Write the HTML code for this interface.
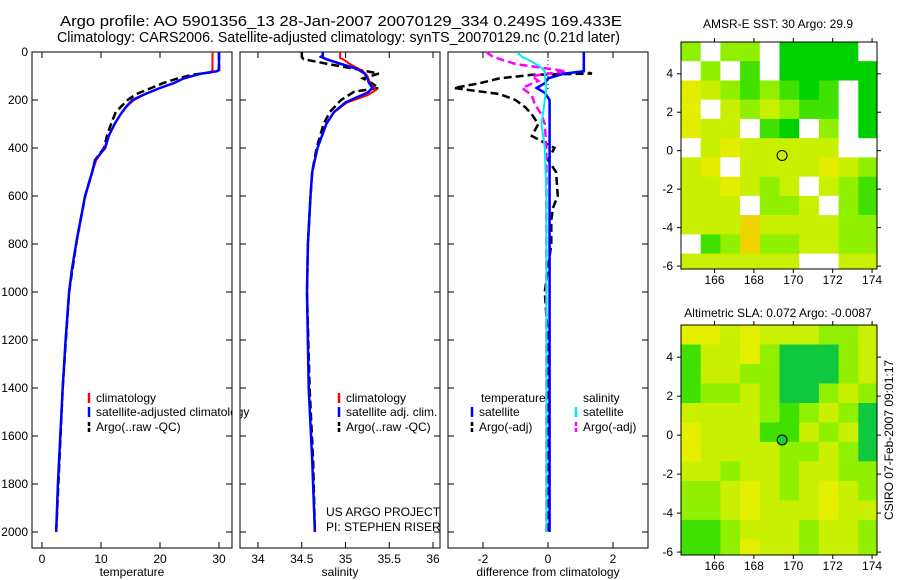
<!DOCTYPE html>
<html><head><meta charset="utf-8"><style>
body{margin:0;background:#fff;}
svg{display:block;font-family:"Liberation Sans",sans-serif;}
</style></head><body>
<svg id="c" width="900" height="580" viewBox="0 0 900 580">
<text x="60" y="26" font-size="15" textLength="562" lengthAdjust="spacingAndGlyphs">Argo profile: AO 5901356_13 28-Jan-2007 20070129_334 0.249S 169.433E</text>
<text x="57" y="42" font-size="15" textLength="563" lengthAdjust="spacingAndGlyphs">Climatology: CARS2006. Satellite-adjusted climatology: synTS_20070129.nc (0.21d later)</text>
<text x="778" y="28" font-size="12" text-anchor="middle">AMSR-E SST: 30 Argo: 29.9</text>
<text x="778" y="317" font-size="12" text-anchor="middle">Altimetric SLA: 0.072 Argo: -0.0087</text>
<text x="0" y="0" font-size="12" text-anchor="middle" transform="translate(893,440) rotate(-90)">CSIRO 07-Feb-2007 09:01:17</text>
<text x="326" y="516" font-size="12">US ARGO PROJECT</text>
<text x="326" y="531" font-size="12">PI: STEPHEN RISER</text>
</svg>
<script>
const NS="http://www.w3.org/2000/svg";
const svg=document.getElementById('c');
// ---- data ----
const depthTicks=[0,200,400,600,800,1000,1200,1400,1600,1800,2000];
const tempTicks=[0,10,20,30];
const salTicks=[34,34.5,35,35.5,36];
const diffTicks=[-2,0,2];
const tClimD=[0,75,85,90,110,130,150,175,200,230,260,300,350,400,450,500,600,783,900,1000,1200,1400,1600,1800,2000];
const tClimV=[28.9,28.9,28.5,27,24,22.3,20,17.5,15.6,14.2,13.3,12.3,11.3,10.6,9.2,8.5,7.3,5.9,5.1,4.6,4.0,3.5,3.1,2.7,2.4];
const tAdjD=[0,75,80,90,110,130,150,175,200,230,260,300,350,400,450,500,600,783,900,1000,1200,1400,1600,1800,2000];
const tAdjV=[30,30,29.7,27,24,22.3,20,17.5,15.3,14.2,13.3,12.3,11.3,10.7,9.0,8.5,7.3,5.9,5.1,4.6,4.0,3.5,3.1,2.7,2.4];
const tArgD=[0,75,85,95,110,130,150,175,200,250,300,350,400,450,500,600,783,1000,1400,2000];
const tArgV=[30,30,28.5,25.5,23,20.5,18.5,16,14.5,12.5,11.7,11,10.5,9,8.5,7.3,5.9,4.6,3.5,2.4];
const sClimD=[0,25,30,50,80,100,130,158,180,210,250,300,400,500,600,800,1000,1400,1700,2000];
const sClimV=[34.94,34.94,34.97,35.05,35.2,35.25,35.28,35.35,35.25,35.02,34.87,34.78,34.68,34.62,34.6,34.57,34.56,34.58,34.62,34.65];
const sAdjD=[0,15,20,30,50,70,90,110,130,150,170,190,210,250,300,400,500,600,800,1000,1400,1700,2000];
const sAdjV=[34.74,34.74,34.72,34.78,34.95,35.13,35.22,35.25,35.27,35.31,35.25,35.12,35.0,34.87,34.78,34.68,34.62,34.6,34.57,34.56,34.58,34.62,34.65];
const sArgD=[0,20,30,50,70,90,110,130,150,165,200,250,300,400,500,600,800,1000,1400,1700,2000];
const sArgV=[34.5,34.5,34.52,34.8,35.1,35.38,35.2,35.3,35.38,35.1,34.95,34.82,34.75,34.67,34.62,34.6,34.57,34.56,34.59,34.63,34.65];
const dTSatD=[0,80,90,110,130,150,170,200,300,500,800,1200,1600,2000];
const dTSatV=[1.1,1.1,0.5,0,-0.1,-0.35,-0.1,0.05,0.05,0.05,0.05,0.05,0.05,0.05];
const dTArgD=[0,80,90,95,110,130,150,175,200,230,260,300,350,400,450,500,600,650,700,800,1000,1200,1600,2000];
const dTArgV=[1.1,1.1,1.35,-0.5,-1.5,-2.1,-2.9,-1.5,-1.0,-0.7,-0.5,-0.3,-0.5,0.2,0.0,0.25,0.3,0.15,0.1,0.1,-0.1,0,0,0];
const dSSatD=[0,20,40,60,80,100,150,200,300,400,600,1000,2000];
const dSSatV=[-0.95,-0.8,-0.5,-0.25,-0.1,-0.1,-0.05,-0.1,-0.2,-0.1,-0.05,-0.05,-0.05];
const dSArgD=[0,20,50,80,100,120,150,180,220,260,300,400,600,1000,2000];
const dSArgV=[-1.9,-1.7,-1.0,0.55,-0.5,-0.3,-0.8,-0.5,-0.4,-0.2,-0.1,-0.05,-0.05,-0.05,-0.05];
const mapLonTicks=[166,168,170,172,174];
const mapLatTicks=[4,2,0,-2,-4,-6];
const sstGrid=["lWllWGGGGW","WlWgWGGGGG","YylglgGgWG","YWylylggWG","YyyWgGWlWG","WyYyyyyyWW","yYWyyyyYyl","yyYylyWylg","yyyWllyWlg","yyyoyyyyll","Wglollyyll","yyyyyyWWyy"];
const slaGrid=["YYyYyyylly","gyyYlGGGly","gyyllGGGly","gllylGGlyl","yyyylglylG","YyyyggylyG","YyyyyllylG","yylyylyyll","llyYylyYyl","llyYyyyYyy","gglyyylyyl","gglYyylyyl"];
const argoLon=169.433, argoLat=-0.249;
// ---- helpers ----
function el(t,a,p){const e=document.createElementNS(NS,t);for(const k in a)e.setAttribute(k,a[k]);(p||svg).appendChild(e);return e;}
function txt(x,y,s,anchor,p){const t=el('text',{x:x,y:y,'font-size':12,'text-anchor':anchor||'start'},p);t.textContent=s;return t;}
const yD=d=>52+d*0.24;
const panels=[
 {x0:32,x1:232,sx:v=>42+v*5.9,ticks:tempTicks,lab:'temperature',name:'temperature'},
 {x0:240,x1:440,sx:v=>258+(v-34)*87.5,ticks:salTicks,lab:'salinity',name:'salinity'},
 {x0:448,x1:648,sx:v=>548+v*32.5,ticks:diffTicks,lab:'difference from climatology',name:'difference'}];
panels.forEach((P,i)=>{
 const g=el('g',{});
 
 
 el('rect',{x:P.x0,y:52,width:P.x1-P.x0,height:496,fill:'none',stroke:'#000','stroke-width':1},g);
 P.ticks.forEach(v=>{const x=P.sx(v);
  el('line',{x1:x,x2:x,y1:548,y2:542,stroke:'#000'},g);
  el('line',{x1:x,x2:x,y1:52,y2:58,stroke:'#000'},g);
  const t=txt(x,563,String(v),'middle',g);
  
  });
 depthTicks.forEach(d=>{const y=yD(d);
  el('line',{x1:P.x0,x2:P.x0+6,y1:y,y2:y,stroke:'#000'},g);
  el('line',{x1:P.x1,x2:P.x1-6,y1:y,y2:y,stroke:'#000'},g);
  if(i===0){const t=txt(28,y+4,String(d),'end',g);
   
   }});
 const xl=txt((P.x0+P.x1)/2,576,P.lab,'middle',g);
 
 
});
const clip=el('clipPath',{id:'pc'});el('rect',{x:448,y:52,width:200,height:496},clip);
function line(P,D,V,color,dash,name,w){
 const pts=D.map((d,k)=>P.sx(V[k]).toFixed(1)+','+yD(d).toFixed(1)).join(' ');
 const a={points:pts,fill:'none',stroke:color,'stroke-width':w||2};
 if(dash)a['stroke-dasharray']=dash;
 const p=el('polyline',a);
 if(P===panels[2])p.setAttribute('clip-path','url(#pc)');
 
 
}
el('line',{x1:548,x2:548,y1:52,y2:90,stroke:'#000','stroke-dasharray':'1,3'});
line(panels[0],tArgD,tArgV,'#000','8,4','temp-argo-line',2.5);
line(panels[0],tClimD,tClimV,'#f00',null,'temp-climatology-line');
line(panels[0],tAdjD,tAdjV,'#00f',null,'temp-satellite-adjusted-line',2.5);
line(panels[1],sArgD,sArgV,'#000','8,4','sal-argo-line',2.5);
line(panels[1],sClimD,sClimV,'#f00',null,'sal-climatology-line');
line(panels[1],sAdjD,sAdjV,'#00f',null,'sal-satellite-adjusted-line',2.5);
line(panels[2],dTArgD,dTArgV,'#000','8,4','temp-diff-argo-line',2.5);
line(panels[2],dSArgD,dSArgV,'#f0f','8,4','sal-diff-argo-line',2.5);
line(panels[2],dTSatD,dTSatV,'#00f',null,'temp-diff-satellite-line',2.5);
line(panels[2],dSSatD,dSSatV,'#0ee',null,'sal-diff-satellite-line',2);
// legends
function leg(x,y,color,dash,label,name){
 const g=el('g',{});
 
 
 const a={x1:x,x2:x,y1:y-9,y2:y+1,stroke:color,'stroke-width':2.5};if(dash)a['stroke-dasharray']='4,2';
 el('line',a,g);txt(x+7,y,label,'start',g);}
leg(89,402,'#f00',null,'climatology','legend-climatology');
leg(89,416,'#00f',null,'satellite-adjusted climatology','legend-satellite-adjusted');
leg(89,431,'#000',1,'Argo(..raw -QC)','legend-argo');
leg(339,402,'#f00',null,'climatology','legend-sal-climatology');
leg(339,416,'#00f',null,'satellite adj. clim.','legend-sal-satellite');
leg(339,431,'#000',1,'Argo(..raw -QC)','legend-sal-argo');
const lt=txt(481,402,'temperature');
const ls=txt(583,402,'salinity');
leg(472,416,'#00f',null,'satellite','legend-temp-satellite');
leg(472,431,'#000',1,'Argo(-adj)','legend-temp-argo');
leg(576,416,'#0ee',null,'satellite','legend-sal-satellite');
leg(576,431,'#f0f',1,'Argo(-adj)','legend-sal-argo-diff');
svg.insertBefore(el('rect',{x:232.5,y:390,width:7,height:45,fill:'#fff'}),null);
// maps
const pal1={W:'#fff',G:'#00d000',g:'#40e000',l:'#90f000',y:'#c8f000',Y:'#e4ec00',o:'#f0d400'};
const pal2={G:'#10c840',g:'#40e000',l:'#90f000',y:'#c8f000',Y:'#e4f000'};
function map(y0,y1,grid,pal,name,fillCircle){
 const x0=681,x1=877,lonL=164.3,lonR=174.25,latT=5.65,latB=-6.15;
 const sx=v=>x0+(v-lonL)/(lonR-lonL)*(x1-x0), sy=v=>y0+(latT-v)/(latT-latB)*(y1-y0);
 const g=el('g',{});
 
 
 const cid=name+'-clip';const cp=el('clipPath',{id:cid},g);el('rect',{x:x0,y:y0,width:x1-x0,height:y1-y0},cp);
 const cg=el('g',{'clip-path':'url(#'+cid+')'},g);
 grid.forEach((row,r)=>{for(let c=0;c<row.length;c++){
  const a=sx(lonL+c),b=sy(latT-r);
  const cell=el('rect',{x:a.toFixed(1),y:b.toFixed(1),width:(sx(lonL+c+1)-a+0.5).toFixed(1),height:(sy(latT-r-1)-b+0.5).toFixed(1),fill:pal[row[c]]||'#c8f000'},cg);
  
  }});
 el('rect',{x:x0,y:y0,width:x1-x0,height:y1-y0,fill:'none',stroke:'#000'},g);
 mapLonTicks.forEach(v=>{const x=sx(v);el('line',{x1:x,x2:x,y1:y1,y2:y1+4,stroke:'#000'},g);el('line',{x1:x,x2:x,y1:y0,y2:y0-4,stroke:'#000'},g);txt(x,y1+15,String(v),'middle',g);});
 mapLatTicks.forEach(v=>{const y=sy(v);el('line',{x1:x0,x2:x0-4,y1:y,y2:y,stroke:'#000'},g);el('line',{x1:x1,x2:x1+4,y1:y,y2:y,stroke:'#000'},g);txt(673,y+4,String(v),'end',g);});
 const c=el('circle',{cx:sx(argoLon),cy:sy(argoLat),r:5,fill:fillCircle?'#20c840':'none',stroke:'#000'},g);
 
 
}
map(42,269,sstGrid,pal1,'sst-map',false);
map(325,555,slaGrid,pal2,'sla-map',true);
</script>
</body></html>
